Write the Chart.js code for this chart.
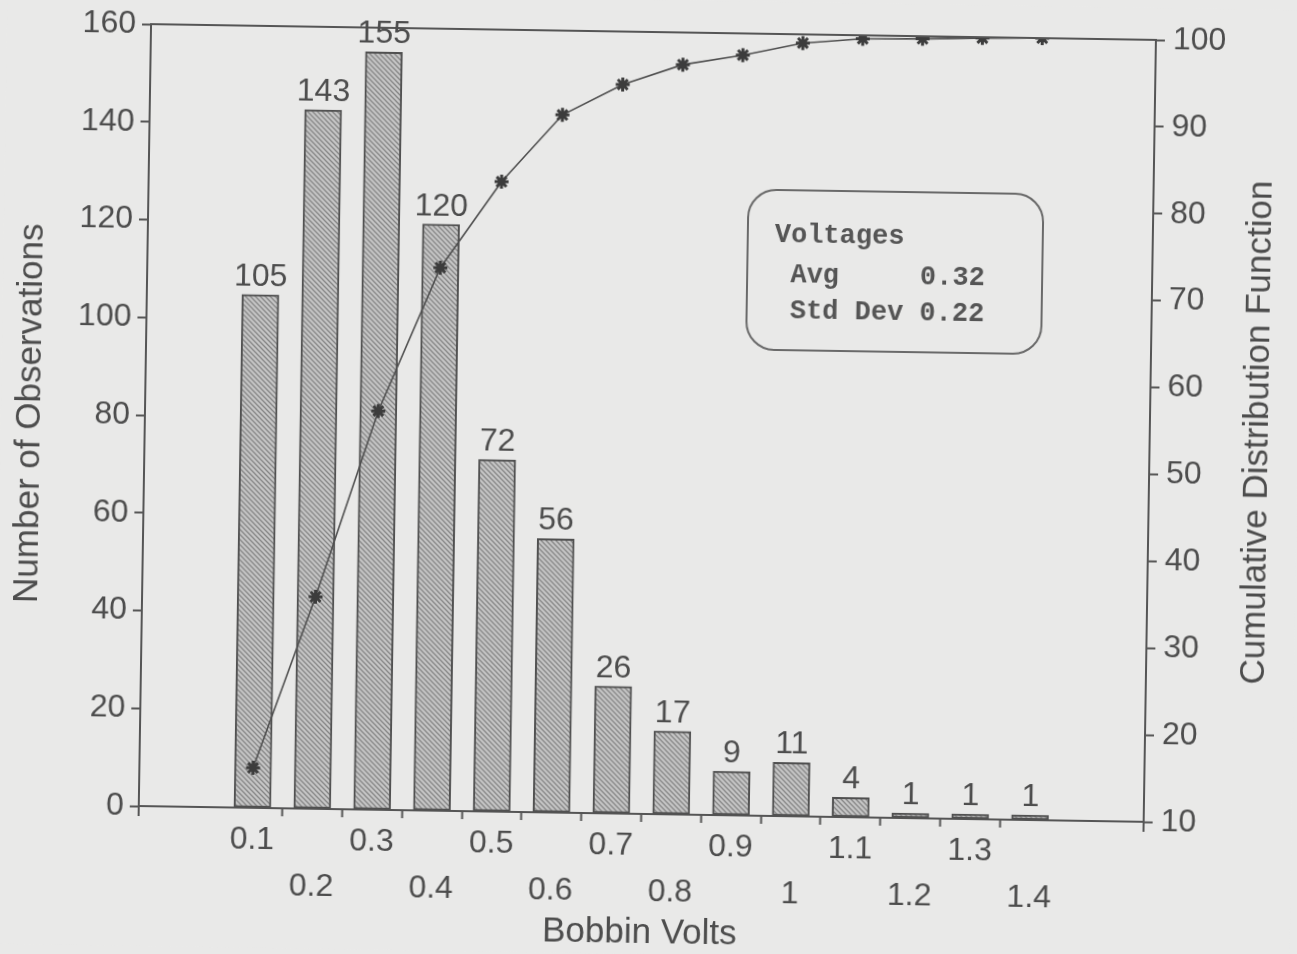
<!DOCTYPE html>
<html>
<head>
<meta charset="utf-8">
<script src="https://cdn.jsdelivr.net/npm/chart.js@4.4.1/dist/chart.umd.min.js"></script>
<style>
  html, body { margin: 0; padding: 0; background: #e9e9e8; overflow: hidden; }
  #wrap { width: 1297px; height: 954px; transform: rotate(0.9deg); transform-origin: 50% 50%; }
</style>
</head>
<body>
<div id="wrap"><canvas id="canvas" width="1297" height="954"></canvas></div>
<script>
// DATA
const volts = [0.1, 0.2, 0.3, 0.4, 0.5, 0.6, 0.7, 0.8, 0.9, 1.0, 1.1, 1.2, 1.3, 1.4];
const voltLabels = ['0.1', '0.2', '0.3', '0.4', '0.5', '0.6', '0.7', '0.8', '0.9', '1', '1.1', '1.2', '1.3', '1.4'];
const observations = [105, 143, 155, 120, 72, 56, 26, 17, 9, 11, 4, 1, 1, 1];
const cumulative = [14.6, 34.4, 55.9, 72.5, 82.5, 90.3, 93.9, 96.3, 97.5, 99.0, 99.6, 99.7, 99.9, 100];
const binEdges = [0.15, 0.25, 0.35, 0.45, 0.55, 0.65, 0.75, 0.85, 0.95, 1.05, 1.15, 1.25, 1.35];
const statsLines = ['Voltages', ' Avg     0.32', ' Std Dev 0.22'];

const ink = '#4d4d4d';
const axisInk = '#555555';
const sans = '"Liberation Sans", Arial, sans-serif';

// hatched fill for the bars
function hatch() {
    const s = 5;
    const c = document.createElement('canvas');
    c.width = s; c.height = s;
    const g = c.getContext('2d');
    g.fillStyle = '#c6c6c6';
    g.fillRect(0, 0, s, s);
    g.strokeStyle = '#868686';
    g.lineWidth = 1.3;
    g.beginPath();
    g.moveTo(-1, -1); g.lineTo(s + 1, s + 1);
    g.moveTo(-1, s - 1); g.lineTo(1, s + 1);
    g.moveTo(s - 1, -1); g.lineTo(s + 1, 1);
    g.stroke();
    return g.createPattern(c, 'repeat');
}

const ctx = document.getElementById('canvas').getContext('2d');

const extras = {
    id: 'extras',
    beforeDraw(chart) {
        const c = chart.ctx;
        c.save();
        c.fillStyle = '#e9e9e8';
        c.fillRect(0, 0, chart.width, chart.height);
        c.restore();
    },
    afterDraw(chart) {
        const c = chart.ctx;
        const a = chart.chartArea;
        c.save();
        // frame top + axis stubs below the x axis
        c.strokeStyle = axisInk;
        c.lineWidth = 2;
        c.beginPath();
        c.moveTo(a.left, a.top); c.lineTo(a.right, a.top);
        c.moveTo(a.left, a.bottom); c.lineTo(a.left, a.bottom + 10);
        c.moveTo(a.right, a.bottom); c.lineTo(a.right, a.bottom + 10);
        c.stroke();

        // value labels over the bars
        c.fillStyle = ink;
        c.font = '32px ' + sans;
        c.textAlign = 'center';
        c.textBaseline = 'alphabetic';
        chart.getDatasetMeta(1).data.forEach((bar, i) => {
            c.fillText(String(observations[i]), bar.x, bar.y - 9);
        });

        // right axis title, reading upwards
        c.save();
        c.translate(1257, (a.top + a.bottom) / 2);
        c.rotate(-Math.PI / 2);
        c.font = '35px ' + sans;
        c.textBaseline = 'middle';
        c.fillText('Cumulative Distribution Function', 0, 0);
        c.restore();

        // stats box
        const bx = a.left + 600, by = a.top + 156, bw = 295, bh = 160;
        c.strokeStyle = '#6a6a6a';
        c.lineWidth = 2;
        c.beginPath();
        c.roundRect(bx, by, bw, bh, 28);
        c.stroke();
        c.font = 'bold 27px "Liberation Mono", "Courier New", monospace';
        c.textAlign = 'left';
        c.textBaseline = 'middle';
        c.fillStyle = '#555555';
        const rows = [45, 85, 121];
        statsLines.forEach((t, i) => c.fillText(t, bx + 27, by + rows[i]));
        c.restore();
    }
};

const myChart = new Chart(ctx, {
    data: {
        datasets: [{
            type: 'line',
            label: 'Cumulative',
            data: volts.map((v, i) => ({ x: v, y: cumulative[i] })),
            yAxisID: 'y2',
            borderColor: '#505050',
            borderWidth: 1.6,
            pointStyle: 'star',
            pointRadius: 7,
            pointBorderWidth: 3,
            pointBorderColor: '#3c3c3c',
            pointBackgroundColor: '#3c3c3c',
            tension: 0,
            order: 0
        }, {
            type: 'bar',
            label: 'Observations',
            data: volts.map((v, i) => ({ x: v, y: observations[i] })),
            yAxisID: 'y',
            backgroundColor: hatch(),
            borderColor: '#505050',
            borderWidth: 2,
            borderSkipped: false,
            barThickness: 37,
            order: 1
        }]
    },
    options: {
        responsive: false,
        animation: false,
        events: [],
        layout: { padding: { top: 32, left: 0, right: 0, bottom: 0 } },
        plugins: { legend: { display: false }, tooltip: { enabled: false } },
        scales: {
            x: {
                type: 'linear',
                position: 'bottom',
                offset: false,
                min: -0.09,
                max: 1.59,
                afterBuildTicks: (scale) => {
                    const t = volts.map((v, i) => ({ value: v, lines: i % 2 === 0 ? [voltLabels[i]] : ['', voltLabels[i]] }));
                    binEdges.forEach(v => t.push({ value: v, edge: true, lines: '' }));
                    t.sort((p, q) => p.value - q.value);
                    scale.ticks = t;
                },
                afterFit: (scale) => { scale.height = 140; },
                border: { color: axisInk, width: 2 },
                grid: {
                    offset: false,
                    drawOnChartArea: false,
                    tickLength: 8,
                    tickWidth: 2,
                    tickColor: (c) => (c.tick && c.tick.edge) ? axisInk : 'rgba(0,0,0,0)'
                },
                ticks: {
                    autoSkip: false,
                    maxRotation: 0,
                    minRotation: 0,
                    padding: 1,
                    color: ink,
                    font: { family: sans, size: 32, lineHeight: 1.44 },
                    callback: (value, index, ticks) => ticks[index].lines
                },
                title: {
                    display: true,
                    text: 'Bobbin Volts',
                    color: ink,
                    font: { family: sans, size: 35, lineHeight: 1.2 },
                    padding: { top: 0, bottom: 0 }
                }
            },
            y: {
                position: 'left',
                min: 0,
                max: 160,
                afterFit: (scale) => { scale.width = 144; },
                border: { color: axisInk, width: 2 },
                grid: { drawOnChartArea: false, tickLength: 9, tickWidth: 2, tickColor: axisInk },
                ticks: { stepSize: 20, padding: 6, color: ink, font: { family: sans, size: 32 } },
                title: {
                    display: true,
                    text: 'Number of Observations',
                    color: ink,
                    font: { family: sans, size: 35, lineHeight: 1.2 },
                    padding: { top: 8, bottom: 0 }
                }
            },
            y2: {
                position: 'right',
                min: 10,
                max: 100,
                afterFit: (scale) => { scale.width = 148; },
                border: { color: axisInk, width: 2 },
                grid: { drawOnChartArea: false, tickLength: 9, tickWidth: 2, tickColor: axisInk },
                ticks: { stepSize: 10, padding: 8, color: ink, font: { family: sans, size: 32 } }
            }
        }
    },
    plugins: [extras]
});
</script>
</body>
</html>
